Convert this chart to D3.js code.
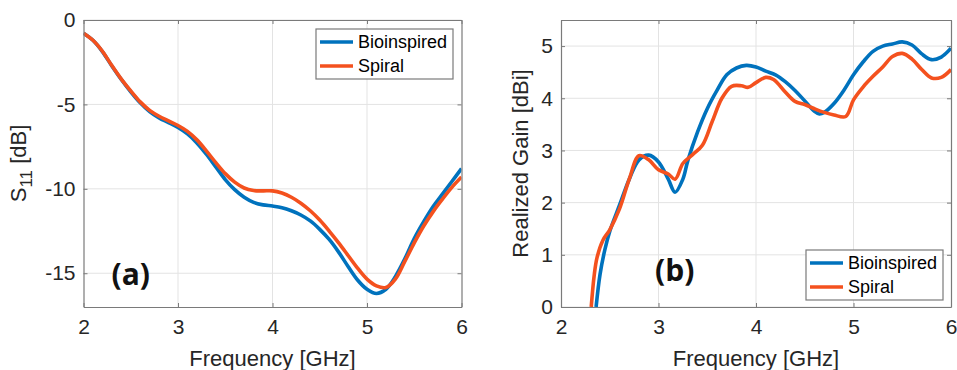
<!DOCTYPE html>
<html>
<head>
<meta charset="utf-8">
<script src="https://cdn.jsdelivr.net/npm/d3@7"></script>
<style>
  body { margin: 0; background: #fff; }
  svg { display: block; }
  .tick text { font-family: "Liberation Sans", Arial, sans-serif; font-size: 21px; fill: #262626; }
  .axis-title { font-family: "Liberation Sans", Arial, sans-serif; font-size: 22px; fill: #262626; }
  .legend { font-family: "Liberation Sans", Arial, sans-serif; font-size: 18px; fill: #000; }
  .tag { font-family: "Open Sans", sans-serif; font-weight: 700; font-size: 30px; fill: #111; }
</style>
</head>
<body>
<svg width="957" height="370"></svg>
<script>
// (a) S11 data
var freqS11 = [2.0, 2.1, 2.2, 2.3, 2.4, 2.5, 2.6, 2.7, 2.8, 2.9,
               3.0, 3.1, 3.2, 3.3, 3.4, 3.5, 3.6, 3.7, 3.8, 3.9,
               4.0, 4.1, 4.2, 4.3, 4.4, 4.5, 4.6, 4.7, 4.8, 4.9,
               5.0, 5.1, 5.2, 5.3, 5.4, 5.5, 5.6, 5.7, 5.8, 5.9, 6.0];
var s11Bio = [-0.78, -1.2, -1.87, -2.72, -3.52, -4.25, -4.9, -5.42, -5.8, -6.08,
              -6.37, -6.75, -7.28, -7.95, -8.7, -9.45, -10.05, -10.5, -10.8, -10.95,
              -11.02, -11.12, -11.3, -11.55, -11.9, -12.4, -13.0, -13.75, -14.6, -15.4,
              -15.95, -16.2, -15.95, -15.2, -14.15, -12.95, -11.95, -11.05, -10.3, -9.55, -8.8];
var s11Spiral = [-0.78, -1.2, -1.85, -2.7, -3.5, -4.2, -4.85, -5.35, -5.7, -5.98,
                 -6.25, -6.6, -7.1, -7.75, -8.45, -9.1, -9.6, -9.95, -10.1, -10.12,
                 -10.12, -10.25, -10.5, -10.85, -11.3, -11.85, -12.5, -13.2, -13.95, -14.7,
                 -15.35, -15.75, -15.85, -15.35, -14.3, -13.2, -12.2, -11.35, -10.6, -9.9, -9.3];

// (b) realized gain data
var freqGainBio = [2.36, 2.4, 2.45, 2.5, 2.6, 2.7, 2.8, 2.9, 3.0, 3.1, 3.17, 3.25, 3.3, 3.4, 3.5,
                   3.6, 3.7, 3.8, 3.9, 4.0, 4.1, 4.2, 4.3, 4.4, 4.5, 4.6, 4.65, 4.7, 4.8, 4.9,
                   5.0, 5.1, 5.2, 5.3, 5.4, 5.5, 5.6, 5.7, 5.8, 5.9, 6.0];
var gainBio = [0, 0.62, 1.1, 1.45, 1.95, 2.45, 2.82, 2.91, 2.78, 2.45, 2.2, 2.45, 2.8, 3.35, 3.8,
               4.15, 4.45, 4.58, 4.63, 4.6, 4.52, 4.45, 4.32, 4.15, 3.95, 3.75, 3.7, 3.73, 3.9, 4.15,
               4.45, 4.7, 4.9, 5.0, 5.04, 5.08, 5.02, 4.85, 4.74, 4.79, 4.96];
var freqGainSpiral = [2.31, 2.34, 2.37, 2.43, 2.5, 2.6, 2.7, 2.8, 2.9, 3.0, 3.1, 3.17, 3.25, 3.35, 3.45,
                      3.55, 3.65, 3.75, 3.85, 3.92, 4.0, 4.1, 4.18, 4.3, 4.4, 4.5, 4.6, 4.7, 4.8, 4.92,
                      5.0, 5.1, 5.2, 5.3, 5.4, 5.5, 5.6, 5.7, 5.8, 5.9, 6.0];
var gainSpiral = [0, 0.6, 0.95, 1.28, 1.48, 1.88, 2.45, 2.9, 2.82, 2.63, 2.55, 2.45, 2.75, 2.92, 3.1,
                  3.55, 4.0, 4.23, 4.24, 4.21, 4.3, 4.4, 4.36, 4.12, 3.94, 3.88, 3.8, 3.73, 3.68, 3.65,
                  3.97, 4.22, 4.42, 4.6, 4.8, 4.86, 4.75, 4.55, 4.39, 4.4, 4.55];

var seriesNames = ["Bioinspired", "Spiral"];
var seriesColors = ["#0072bd", "#f4511e"];
var freqTicks = [2, 3, 4, 5, 6];
var s11Ticks = [0, -5, -10, -15];
var gainTicks = [0, 1, 2, 3, 4, 5];

var svg = d3.select("svg");

function zip(xs, ys) {
    return xs.map(function(f, i) { return { f: f, v: ys[i] }; });
}

function drawPanel(cfg) {
    var width = cfg.right - cfg.left,
        height = cfg.bottom - cfg.top;

    var x = d3.scaleLinear().domain([2, 6]).range([0, width]);
    var y = d3.scaleLinear().domain(cfg.yDomain).range([height, 0]);

    var g = svg.append("g").attr("transform", "translate(" + cfg.left + "," + cfg.top + ")");

    g.append("clipPath").attr("id", cfg.id + "-clip")
        .append("rect").attr("width", width).attr("height", height);

    // grid
    g.append("g").selectAll("line").data(freqTicks.slice(1, -1)).join("line")
        .attr("x1", function(d) { return x(d); }).attr("x2", function(d) { return x(d); })
        .attr("y1", 0).attr("y2", height)
        .attr("stroke", "#e3e3e3").attr("stroke-width", 1);
    g.append("g").selectAll("line").data(cfg.yTicks).join("line")
        .attr("x1", 0).attr("x2", width)
        .attr("y1", function(d) { return y(d); }).attr("y2", function(d) { return y(d); })
        .attr("stroke", "#e3e3e3").attr("stroke-width", 1);

    // lines
    var line = d3.line()
        .x(function(d) { return x(d.f); })
        .y(function(d) { return y(d.v); })
        .curve(d3.curveCatmullRom.alpha(0.5));

    var lines = g.append("g").attr("clip-path", "url(#" + cfg.id + "-clip)");
    cfg.series.forEach(function(s, i) {
        lines.append("path")
            .datum(s)
            .attr("fill", "none")
            .attr("stroke", seriesColors[i])
            .attr("stroke-width", 3.6)
            .attr("stroke-linejoin", "round")
            .attr("d", line);
    });

    // axes (ticks inside like matlab)
    var xb = g.append("g").attr("transform", "translate(0," + height + ")")
        .call(d3.axisBottom(x).tickValues(freqTicks).tickSizeInner(-4).tickSizeOuter(0).tickPadding(12).tickFormat(d3.format("d")));
    var xt = g.append("g")
        .call(d3.axisTop(x).tickValues(freqTicks).tickSizeInner(-4).tickSizeOuter(0).tickFormat(""));
    var yl = g.append("g")
        .call(d3.axisLeft(y).tickValues(cfg.yTicks).tickSizeInner(-4).tickSizeOuter(0).tickPadding(8).tickFormat(d3.format("d")));
    var yr = g.append("g").attr("transform", "translate(" + width + ",0)")
        .call(d3.axisRight(y).tickValues(cfg.yTicks).tickSizeInner(-4).tickSizeOuter(0).tickFormat(""));
    [xb, xt, yl, yr].forEach(function(a) {
        a.select(".domain").attr("stroke", "#7a7a7a").attr("stroke-width", 1.2);
        a.selectAll(".tick line").attr("stroke", "#7a7a7a");
    });
    yl.selectAll(".tick text").text(function(d) { return d < 0 ? "-" + Math.abs(d) : d; });

    // x title
    g.append("text")
        .attr("class", "axis-title")
        .attr("x", width / 2)
        .attr("y", height + 59)
        .attr("text-anchor", "middle")
        .text("Frequency [GHz]");

    // y title
    var yt = g.append("text")
        .attr("class", "axis-title")
        .attr("transform", "translate(" + cfg.yTitleX + "," + (height / 2) + ") rotate(-90)")
        .attr("text-anchor", "middle");
    cfg.yTitle(yt);

    // panel tag
    g.append("text")
        .attr("class", "tag")
        .attr("x", cfg.tagX)
        .attr("y", cfg.tagY)
        .text(cfg.tag);

    // legend
    var lg = g.append("g").attr("transform", "translate(" + cfg.legendX + "," + cfg.legendY + ")");
    lg.append("rect")
        .attr("width", cfg.legendW).attr("height", 50)
        .attr("fill", "#fff").attr("stroke", "#7a7a7a").attr("stroke-width", 1.2);
    seriesNames.forEach(function(name, i) {
        var ly = 13 + i * 24;
        lg.append("line")
            .attr("x1", 4).attr("x2", 37)
            .attr("y1", ly).attr("y2", ly)
            .attr("stroke", seriesColors[i]).attr("stroke-width", 3.6);
        lg.append("text")
            .attr("class", "legend")
            .attr("x", 42).attr("y", ly)
            .attr("dy", "0.35em")
            .text(name);
    });
}

drawPanel({
    id: "a",
    left: 83.5, right: 461.5, top: 20, bottom: 307,
    yDomain: [-17, 0],
    yTicks: s11Ticks,
    series: [zip(freqS11, s11Bio), zip(freqS11, s11Spiral)],
    yTitleX: -58,
    yTitle: function(t) {
        t.append("tspan").text("S");
        t.append("tspan").attr("dy", 6).style("font-size", "17px").text("11");
        t.append("tspan").attr("dy", -6).text(" [dB]");
    },
    tag: "(a)", tagX: 28, tagY: 265,
    legendX: 232.5, legendY: 9, legendW: 137
});

drawPanel({
    id: "b",
    left: 561, right: 951, top: 20, bottom: 307,
    yDomain: [0, 5.5],
    yTicks: gainTicks,
    series: [zip(freqGainBio, gainBio), zip(freqGainSpiral, gainSpiral)],
    yTitleX: -33,
    yTitle: function(t) { t.text("Realized Gain [dBi]"); },
    tag: "(b)", tagX: 94, tagY: 261,
    legendX: 245, legendY: 230, legendW: 137
});
</script>
</body>
</html>
